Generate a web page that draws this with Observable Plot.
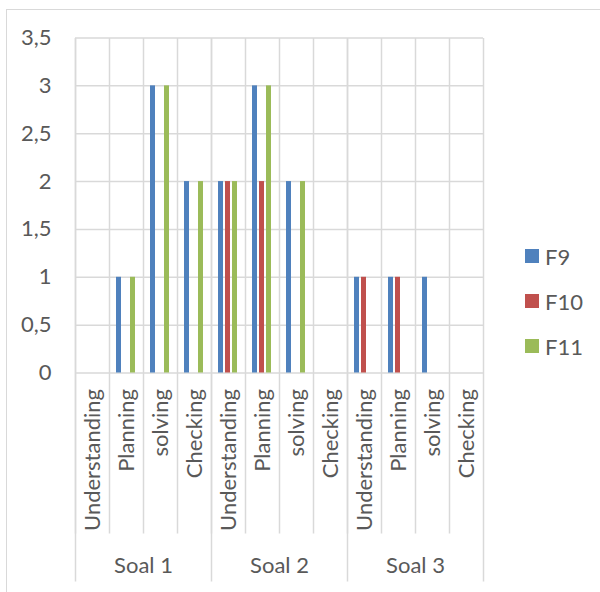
<!DOCTYPE html>
<html><head><meta charset="utf-8">
<script src="https://cdn.jsdelivr.net/npm/d3@7"></script>
<script src="https://cdn.jsdelivr.net/npm/@observablehq/plot@0.6"></script>
<style>
html,body{margin:0;padding:0;background:#fff;overflow:hidden;}
#wrap{position:relative;width:600px;height:592px;font-family:Lato, sans-serif;color:#595959;overflow:hidden;}
#border{position:absolute;left:6px;top:9px;width:700px;height:700px;border:1.5px solid #d9d9d9;box-sizing:border-box;}
#chart{position:absolute;left:0;top:0;}
.lg{position:absolute;left:525px;height:14px;display:flex;align-items:center;font-size:22px;white-space:nowrap;}
.lg span.sw{display:inline-block;width:14px;height:14px;margin-right:6px;}
</style></head>
<body><div id="wrap"><div id="border"></div><div id="chart"></div></div>
<script>
const groups = ["Soal 1", "Soal 2", "Soal 3"];
const steps = ["Understanding", "Planning", "solving", "Checking"];
const series = ["F9", "F10", "F11"];
const F9  = [0, 1, 3, 2,  2, 3, 2, 0,  1, 1, 1, 0];
const F10 = [0, 0, 0, 0,  2, 2, 0, 0,  1, 1, 0, 0];
const F11 = [0, 1, 3, 2,  2, 3, 2, 0,  0, 0, 0, 0];
const yTicks = [0, 0.5, 1, 1.5, 2, 2.5, 3, 3.5];
const colors = ["#4F81BD", "#C0504D", "#9BBB59"];

const values = [F9, F10, F11];
const rows = [];
const cats = [];
groups.forEach((g, gi) => steps.forEach((s, si) => {
  const k = gi * steps.length + si;
  const key = g + "|" + s;
  cats.push({key, group: g, step: s, first: si === 0, last: k === groups.length * steps.length - 1});
  series.forEach((name, j) => rows.push({key, group: g, step: s, series: name, value: values[j][k]}));
}));

const LINE = "#d9d9d9";
const lineShape = {draw(ctx, l) { ctx.moveTo(0, 0); ctx.lineTo(0, -l); }};
const fs = 22;

const chart = Plot.plot({
  width: 600, height: 592,
  marginTop: 37.5, marginLeft: 71, marginRight: 114, marginBottom: 219.5,
  style: {fontFamily: "Lato, sans-serif", color: "#595959", background: "transparent", overflow: "visible"},
  fx: {domain: cats.map(d => d.key), padding: 0, axis: null},
  x: {domain: series, paddingInner: 0.26, paddingOuter: 0.8, axis: null},
  y: {domain: [0, 3.5], axis: null},
  color: {domain: series, range: colors},
  marks: [
    Plot.gridY(yTicks, {stroke: LINE, strokeOpacity: 1, strokeWidth: 1.5}),
    Plot.vector(cats, {fx: "key", frameAnchor: "top-left", length: 495.5, rotate: 180, anchor: "start", stroke: LINE, strokeWidth: 1.5, strokeLinecap: "butt", shape: lineShape}),
    Plot.vector(cats.filter(d => d.first), {fx: "key", frameAnchor: "top-left", length: 543.5, rotate: 180, anchor: "start", stroke: LINE, strokeWidth: 1.5, strokeLinecap: "butt", shape: lineShape}),
    Plot.vector(cats.filter(d => d.last), {fx: "key", frameAnchor: "top-right", length: 543.5, rotate: 180, anchor: "start", stroke: LINE, strokeWidth: 1.5, strokeLinecap: "butt", shape: lineShape}),
    Plot.barY(rows.filter(d => d.value > 0), {fx: "key", x: "series", y: "value", fill: "series"}),
    Plot.axisY({ticks: yTicks, tickSize: 0, tickPadding: 24, tickFormat: d => String(d).replace(".", ","), fontSize: fs, label: null}),
    Plot.axisFx({anchor: "bottom", tickRotate: -90, tickSize: 0, tickPadding: 16, tickFormat: d => d.split("|")[1], fontSize: fs, label: null}),
    Plot.text(cats.filter(d => d.step === steps[1]), {fx: "key", text: "group", frameAnchor: "bottom-right", textAnchor: "middle", lineAnchor: "middle", dy: 193, fontSize: fs, fill: "#595959"})
  ]
});
document.getElementById("chart").appendChild(chart);

const wrap = document.getElementById("wrap");
series.forEach((s, i) => {
  const d = document.createElement("div");
  d.className = "lg";
  d.style.top = (249 + i * 45) + "px";
  d.innerHTML = `<span class="sw" style="background:${colors[i]}"></span><span>${s}</span>`;
  wrap.appendChild(d);
});
</script></body></html>
